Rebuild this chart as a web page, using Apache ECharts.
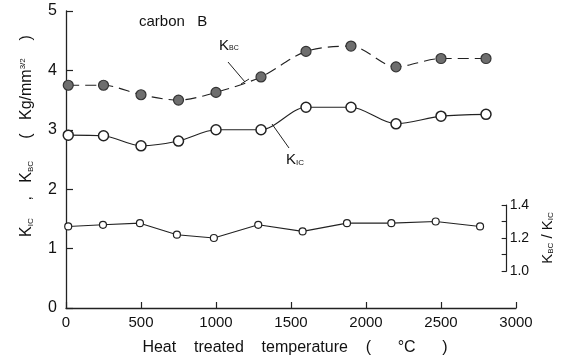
<!DOCTYPE html>
<html>
<head>
<meta charset="utf-8">
<script src="https://cdn.jsdelivr.net/npm/echarts@6/dist/echarts.min.js"></script>
<style>
  html, body { margin: 0; padding: 0; background: #fff; }
  #chart { width: 563px; height: 361px; }
</style>
</head>
<body>
<div id="chart"></div>
<script>
// heat treated temperature (°C)
const temps = [15, 250, 500, 750, 1000, 1300, 1600, 1900, 2200, 2500, 2800]
// K_BC (filled circles, dashed)
const kbc = [3.75, 3.75, 3.59, 3.50, 3.63, 3.89, 4.32, 4.41, 4.06, 4.20, 4.20]
// K_IC (open circles)
const kic = [2.91, 2.90, 2.73, 2.81, 3.00, 3.00, 3.38, 3.38, 3.10, 3.23, 3.26]
// K_BC / K_IC ratio
const ratio = [1.27, 1.28, 1.29, 1.22, 1.20, 1.28, 1.24, 1.29, 1.29, 1.30, 1.27]

const FONT = 'Liberation Sans'
const pair = (xs, ys) => xs.map((x, i) => [x, ys[i]])

const chart = echarts.init(document.getElementById('chart'))

chart.setOption({
  backgroundColor: '#fff',
  animation: false,
  textStyle: { fontFamily: FONT, color: '#111' },
  grid: [
    { left: 66, right: 47, top: 11, bottom: 49 },
    { left: 66, right: 47, top: 205, height: 66 }
  ],
  xAxis: [{
    type: 'value',
    gridIndex: 0,
    min: 0,
    max: 3000,
    interval: 500,
    name: 'Heat    treated    temperature    (      °C      )',
    nameLocation: 'middle',
    nameGap: 32,
    nameTextStyle: { fontSize: 16, color: '#111', padding: [0, 0, 0, 8] },
    axisLine: { lineStyle: { color: '#222', width: 1.3 } },
    axisTick: { inside: true, length: 6, lineStyle: { color: '#222', width: 1.2 } },
    axisLabel: { fontSize: 15, color: '#111', margin: 7, formatter: v => String(v) },
    splitLine: { show: false }
  }, {
    type: 'value',
    gridIndex: 1,
    min: 0,
    max: 3000,
    show: false
  }],
  yAxis: [{
    type: 'value',
    gridIndex: 0,
    min: 0,
    max: 5,
    interval: 1,
    axisLine: { show: true, lineStyle: { color: '#222', width: 1.3 } },
    axisTick: { inside: true, length: 7, lineStyle: { color: '#222', width: 1.2 } },
    axisLabel: { fontSize: 16, color: '#111', margin: 9 },
    splitLine: { show: false }
  }, {
    type: 'value',
    gridIndex: 1,
    position: 'right',
    offset: -3,
    min: 1.0,
    max: 1.4,
    interval: 0.1,
    name: '{k|K}{s|BC}{k| / K}{s|IC}',
    nameLocation: 'middle',
    nameRotate: 90,
    nameGap: 30,
    nameTextStyle: {
      rich: {
        k: { fontSize: 15, color: '#111', fontFamily: FONT },
        s: { fontSize: 8, color: '#111', fontFamily: FONT, padding: [6, 0, 0, 0] }
      }
    },
    axisLine: { show: true, onZero: false, lineStyle: { color: '#222', width: 1.2 } },
    axisTick: { inside: true, length: 5, lineStyle: { color: '#222', width: 1.1 } },
    axisLabel: {
      fontSize: 14,
      color: '#111',
      margin: 3,
      formatter: v => (Math.round(v * 10) % 2 === 0 ? v.toFixed(1) : '')
    },
    splitLine: { show: false }
  }],
  series: [{
    name: 'K_BC',
    type: 'line',
    xAxisIndex: 0,
    yAxisIndex: 0,
    data: pair(temps, kbc),
    smooth: 0.3,
    symbol: 'circle',
    symbolSize: 10,
    lineStyle: { color: '#222', width: 1.1, type: [11, 6] },
    itemStyle: { color: '#6e6e6e', borderColor: '#333', borderWidth: 1.2 },
    z: 3
  }, {
    name: 'K_IC',
    type: 'line',
    xAxisIndex: 0,
    yAxisIndex: 0,
    data: pair(temps, kic),
    smooth: 0.3,
    symbol: 'circle',
    symbolSize: 10,
    lineStyle: { color: '#222', width: 1.1 },
    itemStyle: { color: '#fff', borderColor: '#222', borderWidth: 1.5 },
    z: 3
  }, {
    name: 'ratio',
    type: 'line',
    xAxisIndex: 1,
    yAxisIndex: 1,
    data: pair(temps, ratio),
    symbol: 'circle',
    symbolSize: 7,
    lineStyle: { color: '#222', width: 1.1 },
    itemStyle: { color: '#fff', borderColor: '#222', borderWidth: 1.2 },
    z: 3
  }],
  graphic: [
    {
      type: 'text',
      left: 139, top: 14,
      style: { text: 'carbon   B', font: '15px ' + FONT, fill: '#111' }
    },
    {
      type: 'text',
      x: 219, y: 38,
      style: {
        text: '{k|K}{s|BC}',
        rich: {
          k: { fontSize: 15, fontFamily: FONT, fill: '#111' },
          s: { fontSize: 7, fontFamily: FONT, fill: '#111', padding: [6, 0, 0, 0] }
        }
      }
    },
    { type: 'line', shape: { x1: 228, y1: 62, x2: 245, y2: 82 }, style: { stroke: '#222', lineWidth: 1 } },
    { type: 'line', shape: { x1: 241, y1: 84, x2: 249, y2: 79 }, style: { stroke: '#222', lineWidth: 1 } },
    {
      type: 'text',
      x: 286, y: 152,
      style: {
        text: '{k|K}{s|IC}',
        rich: {
          k: { fontSize: 15, fontFamily: FONT, fill: '#111' },
          s: { fontSize: 8, fontFamily: FONT, fill: '#111', padding: [6, 0, 0, 0] }
        }
      }
    },
    { type: 'line', shape: { x1: 272, y1: 124, x2: 289, y2: 148 }, style: { stroke: '#222', lineWidth: 1 } },
    {
      type: 'text',
      x: 27, y: 136,
      rotation: Math.PI / 2,
      style: {
        text: '{k|K}{s|IC}{k|    ,   K}{s|BC}{k|     (   Kg/mm}{p|3/2}{k|    )}',
        align: 'center',
        verticalAlign: 'middle',
        rich: {
          k: { fontSize: 16, fontFamily: FONT, fill: '#111' },
          s: { fontSize: 8, fontFamily: FONT, fill: '#111', padding: [7, 0, 0, 0] },
          p: { fontSize: 8, fontFamily: FONT, fill: '#111', padding: [0, 0, 8, 0] }
        }
      }
    }
  ]
})
</script>
</body>
</html>
